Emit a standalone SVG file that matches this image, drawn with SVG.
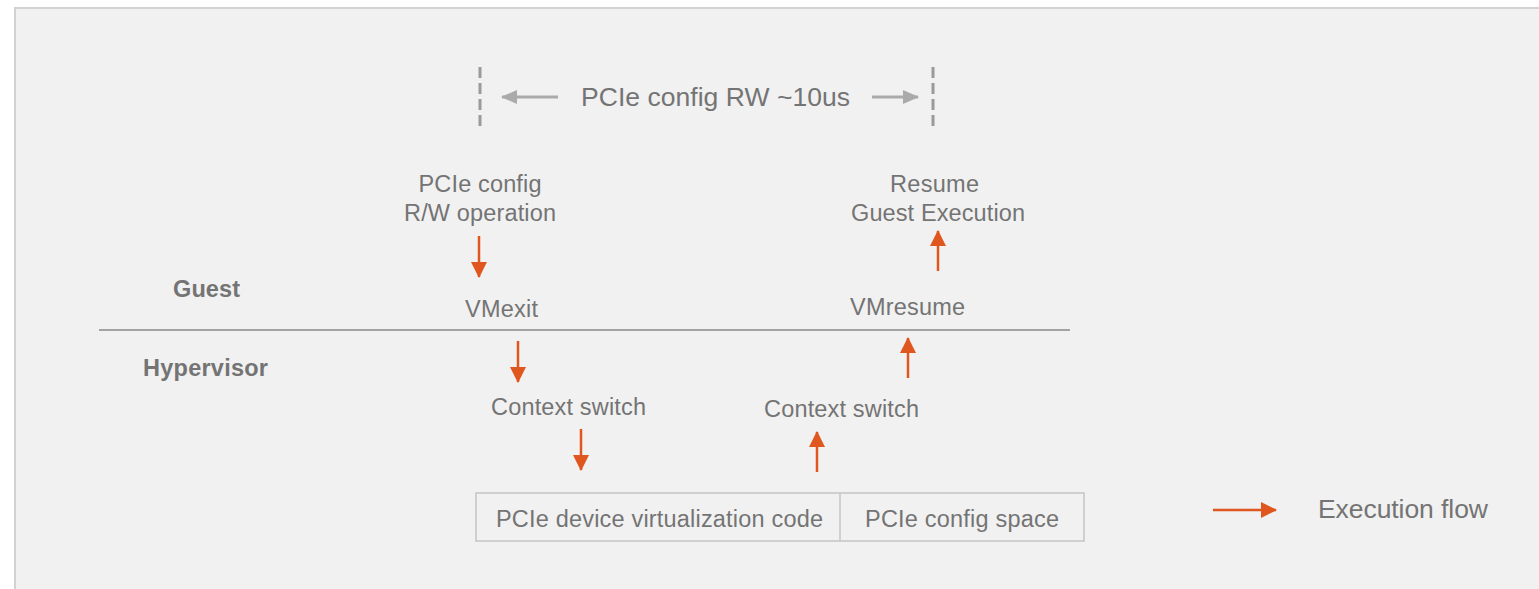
<svg xmlns="http://www.w3.org/2000/svg" width="1539" height="589" viewBox="0 0 1539 589">
<defs>
<style>
.t{font-family:"Liberation Sans",Arial,sans-serif;fill:#747474;}
.m{font-size:23.5px;}
.b{font-size:23.5px;font-weight:bold;}
.l{font-size:26.5px;}
.of{stroke:#e0561f;stroke-width:2.5;fill:none;}
.g{stroke:#aaaaaa;stroke-width:3;fill:none;}
.d{stroke:#9a9a9a;stroke-width:3;stroke-dasharray:11 5;}
</style>
<marker id="oa" markerWidth="16" markerHeight="16" viewBox="0 0 16 16" refX="15" refY="8" orient="auto" markerUnits="userSpaceOnUse">
<path d="M0,0 L16,8 L0,16 Z" fill="#e0561f"/>
</marker>
<marker id="ga" markerWidth="16" markerHeight="14" viewBox="0 0 16 14" refX="15" refY="7" orient="auto" markerUnits="userSpaceOnUse">
<path d="M0,0 L16,7 L0,14 Z" fill="#aaaaaa"/>
</marker>
</defs>
<rect x="0" y="0" width="1539" height="589" fill="#ffffff"/>
<rect x="15" y="8" width="1530" height="590" fill="#f1f1f1" stroke="#d2d2d2" stroke-width="2"/>

<g id="timing">
<line class="d" x1="480" y1="67" x2="480" y2="127"/>
<line class="d" x1="933" y1="67" x2="933" y2="127"/>
<line class="g" x1="558" y1="97" x2="502" y2="97" marker-end="url(#ga)"/>
<line class="g" x1="872" y1="97" x2="918" y2="97" marker-end="url(#ga)"/>
<text class="t l" x="715.5" y="106" text-anchor="middle" textLength="269">PCIe config RW ~10us</text>
</g>

<g id="layers">
<line x1="99" y1="330" x2="1070" y2="330" stroke="#a3a3a3" stroke-width="2"/>
<text class="t b" x="173" y="297" textLength="67">Guest</text>
<text class="t b" x="143" y="376" textLength="125">Hypervisor</text>
</g>

<g id="op"><text class="t m" x="480" y="192" text-anchor="middle" textLength="123">PCIe config</text><text class="t m" x="480" y="221" text-anchor="middle" textLength="152">R/W operation</text></g>
<g id="resume"><text class="t m" x="934.5" y="192" text-anchor="middle" textLength="89">Resume</text><text class="t m" x="938" y="221" text-anchor="middle" textLength="174">Guest Execution</text></g>
<g id="vmexit"><text class="t m" x="501.5" y="317" text-anchor="middle" textLength="73">VMexit</text></g>
<g id="vmresume"><text class="t m" x="907.5" y="315" text-anchor="middle" textLength="115">VMresume</text></g>
<g id="cs1"><text class="t m" x="568.5" y="415" text-anchor="middle" textLength="155">Context switch</text></g>
<g id="cs2"><text class="t m" x="841.5" y="417" text-anchor="middle" textLength="155">Context switch</text></g>

<g id="box">
<rect x="476" y="493" width="608" height="48" fill="#f1f1f1" stroke="#c4c4c4" stroke-width="1.5"/>
<line x1="840" y1="493" x2="840" y2="541" stroke="#c4c4c4" stroke-width="1.5"/>
<text class="t m" x="659.5" y="527" text-anchor="middle" textLength="327">PCIe device virtualization code</text>
<text class="t m" x="962" y="527" text-anchor="middle" textLength="194">PCIe config space</text>
</g>

<g id="connectors">
<line class="of" x1="479" y1="236" x2="479" y2="277" marker-end="url(#oa)"/>
<line class="of" x1="938" y1="271" x2="938" y2="231" marker-end="url(#oa)"/>
<line class="of" x1="518" y1="341" x2="518" y2="382" marker-end="url(#oa)"/>
<line class="of" x1="908" y1="378" x2="908" y2="338" marker-end="url(#oa)"/>
<line class="of" x1="581" y1="429" x2="581" y2="470" marker-end="url(#oa)"/>
<line class="of" x1="817" y1="472" x2="817" y2="432" marker-end="url(#oa)"/>
</g>

<g id="legend">
<line class="of" x1="1213" y1="510" x2="1276" y2="510" marker-end="url(#oa)"/>
<text class="t l" x="1318" y="518" textLength="170">Execution flow</text>
</g>
</svg>
